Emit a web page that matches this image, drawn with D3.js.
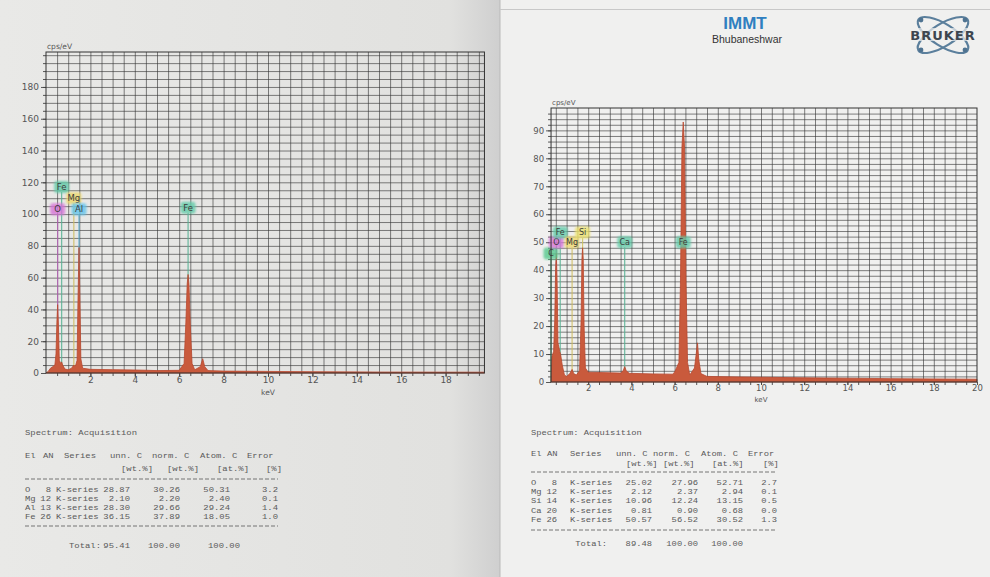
<!DOCTYPE html>
<html>
<head>
<meta charset="utf-8">
<script src="https://cdn.jsdelivr.net/npm/d3@7"></script>
<style>
body { margin: 0; background: #e6e6e4; }
svg { display: block; }
</style>
</head>
<body>
<div id="chart"></div>
<script>
var W = 990, H = 577;

// left spectrum, keV vs cps/eV
var leftKeV = [0, 0.1, 0.2, 0.3, 0.4, 0.45, 0.49, 0.525, 0.56, 0.6, 0.66, 0.705, 0.75, 0.85, 1.0, 1.15, 1.254, 1.32, 1.4, 1.44, 1.487, 1.53, 1.57, 1.65, 2.0, 3.0, 4.0, 4.6, 5.0, 6.0, 6.22, 6.3, 6.36, 6.4, 6.44, 6.5, 6.58, 6.7, 6.95, 7.06, 7.15, 7.3, 8.0, 10.0, 12.0, 15.0, 19.75];
var leftCps = [0, 1, 3, 4, 5, 12, 32, 43, 30, 8, 6, 7, 5, 2.5, 2, 3, 5, 4, 8, 45, 79, 45, 9, 3, 2.3, 2.1, 1.9, 1.7, 1.5, 1.7, 6, 32, 56, 62, 56, 30, 6, 2, 4, 9, 4, 1.5, 1.2, 1, 0.8, 0.6, 0.5];
var leftTagNames = ["O", "Fe", "Mg", "Al", "Fe"];
var leftTagKeV = [0.525, 0.705, 1.254, 1.487, 6.4];
var leftTagY = [103, 117, 110, 103, 104];
var leftYTicks = [0, 20, 40, 60, 80, 100, 120, 140, 160, 180];
var leftXTicks = [2, 4, 6, 8, 10, 12, 14, 16, 18];

// right spectrum, keV vs cps/eV
var rightKeV = [0.28, 0.32, 0.4, 0.45, 0.49, 0.525, 0.56, 0.6, 0.68, 0.72, 0.8, 0.9, 1.0, 1.15, 1.254, 1.33, 1.45, 1.6, 1.67, 1.71, 1.74, 1.77, 1.81, 1.87, 2.0, 3.0, 3.5, 3.62, 3.69, 3.76, 3.9, 5.0, 5.9, 6.0, 6.2, 6.27, 6.34, 6.4, 6.46, 6.53, 6.6, 6.7, 6.92, 7.0, 7.06, 7.12, 7.22, 7.5, 9.0, 12.0, 16.0, 20.0];
var rightCps = [0, 9, 11, 22, 40, 46, 36, 14, 11, 10, 6, 2.5, 2, 3, 4.5, 3, 2.5, 4, 22, 44, 48, 44, 20, 5, 3.5, 3.3, 3.2, 4, 5.5, 4, 3.1, 2.9, 2.8, 3.5, 7, 35, 84, 93, 84, 35, 7, 2.5, 5, 10, 14, 8, 3, 2, 1.8, 1.5, 1.2, 1];
var rightTagNames = ["C", "O", "Fe", "Mg", "Si", "Ca", "Fe"];
var rightTagKeV = [0.277, 0.525, 0.705, 1.254, 1.74, 3.69, 6.4];
var rightTagY = [46, 50, 53.5, 50, 53.5, 50, 50];
var rightYTicks = [0, 10, 20, 30, 40, 50, 60, 70, 80, 90];
var rightXTicks = [2, 4, 6, 8, 10, 12, 14, 16, 18, 20];

// quantification tables
var tableHead1 = ["El", "AN", "Series", "unn. C", "norm. C", "Atom. C", "Error"];
var tableHead2 = ["[wt.%]", "[wt.%]", "[at.%]", "[%]"];
var leftEl = ["O", "Mg", "Al", "Fe"];
var leftAN = ["8", "12", "13", "26"];
var leftUnn = ["28.87", "2.10", "28.30", "36.15"];
var leftNorm = ["30.26", "2.20", "29.66", "37.89"];
var leftAtom = ["50.31", "2.40", "29.24", "18.05"];
var leftErr = ["3.2", "0.1", "1.4", "1.0"];
var leftTotal = ["95.41", "100.00", "100.00"];
var rightEl = ["O", "Mg", "Si", "Ca", "Fe"];
var rightAN = ["8", "12", "14", "20", "26"];
var rightUnn = ["25.02", "2.12", "10.96", "0.81", "50.57"];
var rightNorm = ["27.96", "2.37", "12.24", "0.90", "56.52"];
var rightAtom = ["52.71", "2.94", "13.15", "0.68", "30.52"];
var rightErr = ["2.7", "0.1", "0.5", "0.0", "1.3"];
var rightTotal = ["89.48", "100.00", "100.00"];

var tagColor = {O: "#d774d8", Fe: "#62cba8", Mg: "#eed86c", Al: "#62c4ec", Si: "#ece26c", Ca: "#62cba8", C: "#56c98e"};

var svg = d3.select("#chart").append("svg")
  .attr("width", W)
  .attr("height", H);

var defs = svg.append("defs");
var grad = defs.append("linearGradient").attr("id", "leftPage");
grad.append("stop").attr("offset", "0%").attr("stop-color", "#e9e9e7");
grad.append("stop").attr("offset", "90%").attr("stop-color", "#e1e1df");
grad.append("stop").attr("offset", "100%").attr("stop-color", "#cfcfcf");
defs.append("filter").attr("id", "glow")
  .append("feGaussianBlur").attr("stdDeviation", 1.2);

// pages
svg.append("rect").attr("width", 500).attr("height", H).attr("fill", "url(#leftPage)");
svg.append("rect").attr("x", 500).attr("width", 490).attr("height", H).attr("fill", "#f0f0ef");
svg.append("line").attr("x1", 500).attr("x2", 500).attr("y1", 0).attr("y2", H)
  .attr("stroke", "#b9b9b9").attr("stroke-width", 1);
svg.append("line").attr("x1", 500).attr("x2", W).attr("y1", 9.5).attr("y2", 9.5)
  .attr("stroke", "#c8c8c8");

function drawPanel(p) {
  var x = d3.scaleLinear().domain([0, 20]).range(p.xRange);
  var y = d3.scaleLinear().domain([0, p.yMax]).range(p.yRange);
  var x0 = x(p.xStart), x1 = x(p.xEnd), y0 = y(0), y1 = y(p.yMax);
  var g = svg.append("g");

  var vGrid = d3.range(0.5, p.xEnd, 0.5);
  var hGrid = d3.range(p.yStep, p.yMax, p.yStep);

  var gv = g.append("g").attr("transform", "translate(0," + y0 + ")")
    .call(d3.axisBottom(x).tickValues(vGrid).tickSize(-(y0 - y1)).tickFormat(""));
  var gh = g.append("g").attr("transform", "translate(" + x0 + ",0)")
    .call(d3.axisLeft(y).tickValues(hGrid).tickSize(-(x1 - x0)).tickFormat(""));
  [gv, gh].forEach(function(a) {
    a.select(".domain").remove();
    a.selectAll("line").attr("stroke", "#363636").attr("stroke-width", 0.8).attr("opacity", 0.78);
  });

  // minor ticks
  var my = g.append("g").attr("transform", "translate(" + x0 + ",0)")
    .call(d3.axisLeft(y).tickValues(hGrid).tickSize(3).tickFormat(""));
  var mx = g.append("g").attr("transform", "translate(0," + y0 + ")")
    .call(d3.axisBottom(x).tickValues(vGrid).tickSize(3).tickFormat(""));

  // labelled ticks
  var ay = g.append("g").attr("transform", "translate(" + x0 + ",0)")
    .call(d3.axisLeft(y).tickValues(p.yTicks).tickSize(5).tickPadding(2));
  var ax = g.append("g").attr("transform", "translate(0," + y0 + ")")
    .call(d3.axisBottom(x).tickValues(p.xTicks).tickSize(p.xTick).tickPadding(0));
  [my, mx, ay, ax].forEach(function(a) {
    a.select(".domain").remove();
    a.selectAll("line").attr("stroke", "#444").attr("stroke-width", 0.9);
    a.selectAll("text").attr("fill", "#555").attr("font-family", "DejaVu Sans, sans-serif")
      .attr("font-size", p.fs);
  });

  // tag lines under the spectrum
  var tags = d3.zip(p.tagNames, p.tagKeV, p.tagY);
  g.selectAll(".tagline").data(tags).enter().append("line")
    .attr("x1", function(d) { return x(d[1]); })
    .attr("x2", function(d) { return x(d[1]); })
    .attr("y1", function(d) { return y(d[2]) + 5; })
    .attr("y2", y0)
    .attr("stroke", function(d) { return d3.color(tagColor[d[0]]).darker(0.4); })
    .attr("stroke-width", 1.2)
    .attr("opacity", 0.85);

  var area = d3.area()
    .x(function(d) { return x(d[0]); })
    .y0(y0)
    .y1(function(d) { return y(d[1]); });
  g.append("path")
    .datum(d3.zip(p.keV, p.cps))
    .attr("d", area)
    .attr("fill", "#c95a3c")
    .attr("stroke", "#b9482e")
    .attr("stroke-width", 0.8);

  var tg = g.selectAll(".tag").data(tags).enter().append("g")
    .attr("transform", function(d) { return "translate(" + x(d[1]) + "," + y(d[2]) + ")"; });
  tg.append("rect")
    .attr("x", -7.5).attr("y", -6).attr("width", 15).attr("height", 12).attr("rx", 3)
    .attr("fill", function(d) { return tagColor[d[0]]; })
    .attr("opacity", 0.8)
    .attr("filter", "url(#glow)");
  tg.append("text")
    .attr("text-anchor", "middle")
    .attr("dy", "0.35em")
    .attr("font-family", "DejaVu Sans, sans-serif")
    .attr("font-size", p.fs - 0.5)
    .attr("fill", "#3c3c3c")
    .text(function(d) { return d[0]; });

  // frame
  g.append("rect")
    .attr("x", x0).attr("y", y1).attr("width", x1 - x0).attr("height", y0 - y1)
    .attr("fill", "none").attr("stroke", "#333").attr("stroke-width", 1);

  g.append("text").attr("x", x0 + 1).attr("y", y1 - 3)
    .attr("font-family", "DejaVu Sans, sans-serif").attr("font-size", p.fs - 1.5)
    .attr("fill", "#555").text("cps/eV");
  g.append("text").attr("x", x(10)).attr("y", y0 + p.kevDy)
    .attr("text-anchor", "middle")
    .attr("font-family", "DejaVu Sans, sans-serif").attr("font-size", p.fs - 1.5)
    .attr("fill", "#555").text("keV");
}

drawPanel({
  xRange: [46, 490], xStart: 0, xEnd: 19.75,
  yMax: 202, yRange: [373, 52], yStep: 5,
  yTicks: leftYTicks, xTicks: leftXTicks,
  keV: leftKeV, cps: leftCps,
  tagNames: leftTagNames, tagKeV: leftTagKeV, tagY: leftTagY,
  fs: 9, xTick: 4, kevDy: 22
});
drawPanel({
  xRange: [545, 977], xStart: 0.28, xEnd: 20,
  yMax: 98, yRange: [382, 108], yStep: 2,
  yTicks: rightYTicks, xTicks: rightXTicks,
  keV: rightKeV, cps: rightCps,
  tagNames: rightTagNames, tagKeV: rightTagKeV, tagY: rightTagY,
  fs: 8.5, xTick: 3, kevDy: 20
});

// printed table, squeezed vertically like the printout
function drawTable(t) {
  var k = 0.85;
  function sy(v) { return v / k; }
  var g = svg.append("g")
    .attr("transform", "scale(1," + k + ")")
    .attr("font-family", "Liberation Mono, monospace")
    .attr("font-size", t.fs)
    .attr("fill", "#5a5a5a");
  g.append("text").attr("x", t.left).attr("y", sy(t.titleY)).text("Spectrum: Acquisition");
  g.selectAll(".h1").data(tableHead1).enter().append("text")
    .attr("x", function(d, i) { return t.head1X[i]; })
    .attr("y", sy(t.head1Y)).text(function(d) { return d; });
  g.selectAll(".h2").data(tableHead2).enter().append("text")
    .attr("x", function(d, i) { return t.head2X[i]; })
    .attr("y", sy(t.head2Y)).text(function(d) { return d; });
  [t.dash1, t.dash2].forEach(function(yy) {
    g.append("line").attr("x1", t.left).attr("x2", t.right).attr("y1", sy(yy)).attr("y2", sy(yy))
      .attr("stroke", "#6a6a6a").attr("stroke-width", 1).attr("stroke-dasharray", "4,2");
  });
  var rows = d3.zip(t.el, t.an, t.unn, t.norm, t.atom, t.err);
  var rg = g.selectAll(".row").data(rows).enter().append("g")
    .attr("transform", function(d, i) { return "translate(0," + sy(t.row0 + i * t.rowH) + ")"; });
  rg.append("text").attr("x", t.left).text(function(d) { return d[0]; });
  rg.append("text").attr("x", t.anX).attr("text-anchor", "end").text(function(d) { return d[1]; });
  rg.append("text").attr("x", t.serX).text("K-series");
  [2, 3, 4, 5].forEach(function(c, j) {
    rg.append("text").attr("x", t.numX[j]).attr("text-anchor", "end")
      .text(function(d) { return d[c]; });
  });
  g.append("text").attr("x", t.totX[0]).attr("y", sy(t.totY)).attr("text-anchor", "end").text("Total:");
  t.total.forEach(function(v, i) {
    g.append("text").attr("x", t.totX[i + 1]).attr("y", sy(t.totY)).attr("text-anchor", "end").text(v);
  });
}

drawTable({
  fs: 8.9, left: 25, right: 278,
  titleY: 435, head1Y: 458, head2Y: 471, dash1: 479, dash2: 526,
  head1X: [25, 43, 64, 110, 152, 200, 247],
  head2X: [121, 167, 217, 266],
  row0: 492, rowH: 9, anX: 51, serX: 56,
  numX: [130, 180, 230, 278],
  el: leftEl, an: leftAN, unn: leftUnn, norm: leftNorm, atom: leftAtom, err: leftErr,
  total: leftTotal, totY: 548, totX: [101, 130, 180, 240]
});
drawTable({
  fs: 8.8, left: 531, right: 777,
  titleY: 435, head1Y: 456, head2Y: 466, dash1: 472, dash2: 530,
  head1X: [531, 547, 570, 616, 653, 701, 748],
  head2X: [626, 663, 712, 763],
  row0: 485, rowH: 9.2, anX: 557, serX: 570,
  numX: [652, 698, 743, 777],
  el: rightEl, an: rightAN, unn: rightUnn, norm: rightNorm, atom: rightAtom, err: rightErr,
  total: rightTotal, totY: 546, totX: [607, 652, 698, 743]
});

// letterhead on the right page
svg.append("text").attr("x", 745).attr("y", 29).attr("text-anchor", "middle")
  .attr("font-family", "Liberation Sans, Arial, sans-serif").attr("font-weight", "bold")
  .attr("font-size", 17).attr("fill", "#2f7fc0").text("IMMT");
svg.append("text").attr("x", 747).attr("y", 43).attr("text-anchor", "middle")
  .attr("font-family", "Liberation Sans, Arial, sans-serif")
  .attr("font-size", 10.5).attr("fill", "#333").text("Bhubaneshwar");

var logo = svg.append("g").attr("transform", "translate(943,35)");
[-32, 32].forEach(function(a) {
  logo.append("ellipse").attr("rx", 29).attr("ry", 11)
    .attr("transform", "rotate(" + a + ")")
    .attr("fill", "none").attr("stroke", "#5b7f9c").attr("stroke-width", 2.2);
});
[[-22, -15], [22, -15], [-22, 15], [22, 15]].forEach(function(c) {
  logo.append("circle").attr("cx", c[0]).attr("cy", c[1]).attr("r", 2.4).attr("fill", "#4f7391");
});
logo.append("rect").attr("x", -37).attr("y", -7).attr("width", 74).attr("height", 13).attr("fill", "#f0f0ef").attr("opacity", 0.7);
logo.append("text").attr("x", 0).attr("y", 4.5).attr("text-anchor", "middle")
  .attr("font-family", "DejaVu Sans, sans-serif").attr("font-weight", "bold")
  .attr("font-size", 13).attr("letter-spacing", 1).attr("fill", "#3d4650").text("BRUKER");
</script>
</body>
</html>
